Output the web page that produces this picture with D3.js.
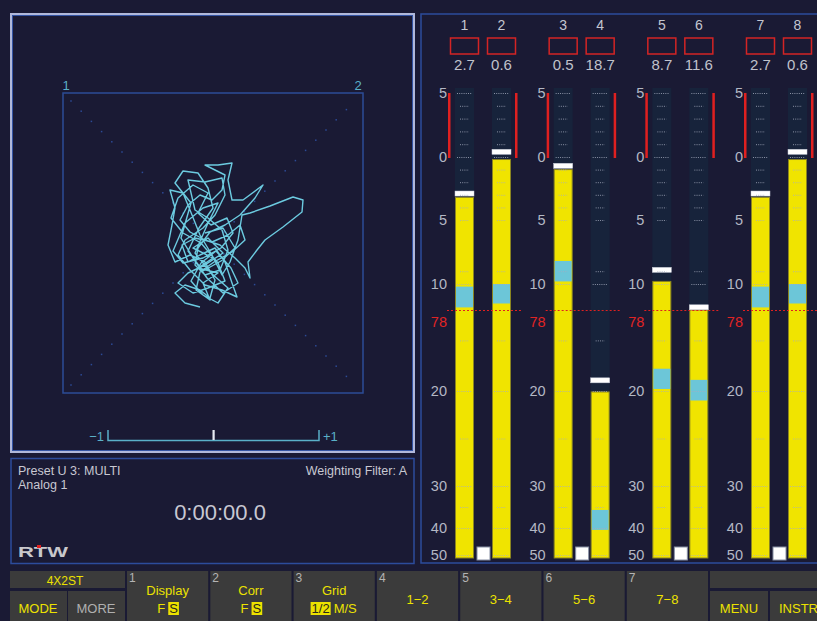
<!DOCTYPE html>
<html>
<head>
<meta charset="utf-8">
<script src="https://cdn.jsdelivr.net/npm/d3@7"></script>
<style>
body{margin:0;background:#1a1a34;overflow:hidden}
svg{display:block}
text{font-family:"Liberation Sans",Arial,sans-serif}
</style>
</head>
<body>
<div class="chart"></div>
<script>
// ---- meter data (dB / LU) ----
const channels = ['1','2','3','4','5','6','7','8']
const peakValues = [-2.7, 0.6, -0.5, -18.7, -8.7, -11.6, -2.7, 0.6]
const levelValues = [-3.2, -0.2, -1.0, -20.1, -9.8, -12.0, -3.2, -0.2]
const bandTop = [-10.2, -10.0, -8.2, -35.7, -17.8, -18.9, -10.2, -10.0]
const bandBottom = [-11.8, -11.5, -9.8, -40.7, -19.8, -21.0, -11.8, -11.5]
const majorTicks = [5, 0, -10, -20, -30, -40, -50]
const minorTicks = [4, 3, 2, 1, -1, -2, -3, -4, -5, -9, -15, -25, -35]
const scaleLabels = [5, 0, -5, -10, -20, -30, -40, -50]
const refLevel = -12
const refLabel = '78'

// ---- goniometer trace (L/R units, centre = 0) ----
const trace = [[-13,-64],[-28,-60],[-38,-50],[-28,-42],[-13,-47],[-3,-55],[2,-37],[-8,-19],[-23,-12],[-38,-19],
  [-45,-2],[-41,18],[-38,35],[-43,53],[-30,50],[-23,33],[-13,8],[-1,-12],[9,-32],[17,-19],
  [25,3],[29,28],[37,30],[57,37],[80,46],[90,43],[89,31],[70,16],[52,3],[44,-7],
  [35,-19],[37,-35],[32,-25],[22,-15],[7,-2],[-8,3],[-23,11],[-33,23],[-25,38],[-13,48],
  [-1,43],[9,53],[12,68],[2,73],[-8,78],[5,78],[19,80],[15,63],[19,43],[30,43],
  [50,58],[42,45],[27,28],[12,18],[-3,11],[-15,-5],[-18,-22],[-8,-32],[7,-27],[15,-7],
  [9,13],[-5,25],[-18,33],[-25,63],[-8,61],[9,65],[12,48],[2,28],[-10,15],[-28,3],
  [-35,-12],[-23,-27],[-8,-42],[9,-47],[24,-54],[19,-40],[12,-19],[2,-5],[-13,-12],[-25,-19],
  [-31,-2],[-18,5],[-1,1],[15,8],[27,18],[32,3],[19,-9],[1,-19],[-13,-29],[-17,-47],[-3,-57],
  [-10,-40],[5,-30],[-15,-25],[0,-15],[-20,-5],[-5,5],[10,-10],[-8,-22],[-25,-30],[-35,-40],
  [-20,-50],[-5,-45],[12,-38],[5,-20],[-12,0],[-30,10],[-42,25],[-35,45],[-20,58],[-5,50],
  [-15,30],[-2,18],[14,25],[20,10],[8,-5],[-10,-15],[-30,-20],[-40,-8],[-28,20],[-10,35],
  [5,40],[-5,20],[-18,-10],[-2,-30],[15,-45],[5,-60],[-10,-52],[-22,-38],[-12,-20],[3,-8],
  [18,-25],[25,-40],[10,-50],[-6,-35],[-18,-18],[-32,5],[-22,40],[-38,60],[-30,72],[-15,70],
  [-5,55],[0,35],[-14,15],[-25,-8],[-10,-28],[8,-18],[22,-5],[10,15],[-8,10]]
const correlation = 0

// ---- info panel ----
const presetText = 'Preset U 3: MULTI'
const sourceText = 'Analog 1'
const filterText = 'Weighting Filter: A'
const timerText = '0:00:00.0'

// ---- soft keys ----
const modeLabel = '4X2ST'
const softKeys = ['1','2','3','4','5','6','7']
const softTitles = ['Display','Corr','Grid','1\u22122','3\u22124','5\u22126','7\u22128']
const softOptions = [['F','S'],['F','S'],['1/2','M/S'],[],[],[],[]]
const softSelected = [1, 1, 0, -1, -1, -1, -1]

const width = 817, height = 621
const yellow = '#ece200', grayText = '#b4b8c4'

let svg = d3.select('.chart').append('svg')
  .attr('width', width).attr('height', height)

svg.append('rect').attr('width', width).attr('height', height).attr('fill', '#1a1a34')

// panels
svg.append('rect').attr('x', 11).attr('y', 14).attr('width', 403).attr('height', 438)
  .attr('fill', '#1a1a34').attr('stroke', '#b0b8da').attr('stroke-width', 2)
svg.append('rect').attr('x', 12.5).attr('y', 15.5).attr('width', 400).attr('height', 435)
  .attr('fill', 'none').attr('stroke', '#3454a4').attr('stroke-width', 1)
svg.append('rect').attr('x', 11).attr('y', 458.5).attr('width', 403).attr('height', 105)
  .attr('fill', '#1a1a34').attr('stroke', '#2c4c9c').attr('stroke-width', 1.5)
svg.append('rect').attr('x', 421).attr('y', 14).attr('width', 405).attr('height', 549)
  .attr('fill', '#1a1a34').attr('stroke', '#2c4c9c').attr('stroke-width', 1.5)

// ================= meters =================
const y = d3.scaleLinear()
  .domain([5, 0, -5, -10, -12, -20, -30, -40, -50])
  .range([93, 157, 220, 284, 310, 391, 486, 528, 555])
const pairX = d3.scaleLinear().domain([0, 3]).range([455, 751])
const barW = 19, pairGap = 37, colTop = 88, barBottom = 558
const barX = i => pairX(Math.floor(i / 2)) + (i % 2) * pairGap

const meters = svg.append('g')

channels.forEach((ch, i) => {
  const x = barX(i), cx = x + barW / 2
  // column background
  meters.append('rect').attr('x', x).attr('y', colTop).attr('width', barW)
    .attr('height', barBottom - colTop).attr('fill', '#17233b')
  // level bar
  meters.append('rect').attr('x', x + 0.5).attr('y', y(levelValues[i]))
    .attr('width', barW - 1).attr('height', barBottom - y(levelValues[i]))
    .attr('fill', '#f0e400').attr('stroke', '#8a8420').attr('stroke-width', 1)
  // cyan band
  meters.append('rect').attr('x', x + 1).attr('y', y(bandTop[i]))
    .attr('width', barW - 2).attr('height', y(bandBottom[i]) - y(bandTop[i]))
    .attr('fill', '#6cc6d8')
  // peak hold
  meters.append('rect').attr('x', x).attr('y', y(peakValues[i]))
    .attr('width', barW).attr('height', 5)
    .attr('fill', '#ffffff').attr('stroke', '#c8ccd8').attr('stroke-width', 0.5)

  // dotted scale ticks
  meters.selectAll(null).data(majorTicks).join('line')
    .attr('x1', x + 2).attr('x2', x + barW - 2)
    .attr('y1', d => y(d) + 0.5).attr('y2', d => y(d) + 0.5)
    .attr('stroke', '#a8aec0').attr('stroke-dasharray', '1,1.2').attr('opacity', 0.8)
  meters.selectAll(null).data(minorTicks).join('line')
    .attr('x1', x + 5).attr('x2', x + barW - 5)
    .attr('y1', d => y(d) + 0.5).attr('y2', d => y(d) + 0.5)
    .attr('stroke', '#a8aec0').attr('stroke-dasharray', '1,1.2').attr('opacity', 0.8)

  // channel number, over box, value
  meters.append('text').attr('x', cx).attr('y', 30).attr('text-anchor', 'middle')
    .attr('font-size', 14).attr('fill', '#c4c6d0').text(ch)
  meters.append('rect').attr('x', cx - 14).attr('y', 38).attr('width', 28).attr('height', 16)
    .attr('fill', 'none').attr('stroke', '#d42424').attr('stroke-width', 1.5)
  meters.append('text').attr('x', cx).attr('y', 70).attr('text-anchor', 'middle')
    .attr('font-size', 15).attr('fill', '#c0c2cc').text(Math.abs(peakValues[i]).toFixed(1))
})

// per-pair scale labels, red range marks, reference line, square indicators
d3.range(4).forEach(p => {
  const x0 = pairX(p)
  meters.selectAll(null).data(scaleLabels).join('text')
    .attr('x', x0 - 8).attr('y', d => y(d) + 5)
    .attr('text-anchor', 'end').attr('font-size', 14.5).attr('fill', grayText)
    .text(d => Math.abs(d))
  meters.append('text').attr('x', x0 - 8).attr('y', y(refLevel) + 17)
    .attr('text-anchor', 'end').attr('font-size', 14.5).attr('fill', '#e02424').text(refLabel)

  meters.append('rect').attr('x', x0 - 7).attr('y', y(5)).attr('width', 2.5)
    .attr('height', y(0) - y(5) + 1).attr('fill', '#e02020')
  meters.append('rect').attr('x', x0 + pairGap + barW + 4).attr('y', y(5)).attr('width', 2.5)
    .attr('height', y(0) - y(5) + 1).attr('fill', '#e02020')

  meters.append('line').attr('x1', x0 - 8).attr('x2', x0 + pairGap + barW + 10)
    .attr('y1', y(refLevel) + 0.5).attr('y2', y(refLevel) + 0.5)
    .attr('stroke', '#e02020').attr('stroke-dasharray', '2,2')

  meters.append('rect').attr('x', x0 + barW + 3).attr('y', 547).attr('width', 13).attr('height', 13)
    .attr('fill', '#ffffff').attr('stroke', '#8890a4').attr('stroke-width', 1)
})

// ================= goniometer =================
const gx = d3.scaleLinear().domain([-150, 150]).range([63, 363])
const gy = d3.scaleLinear().domain([-150, 150]).range([393, 93])
const gonio = svg.append('g')

gonio.append('rect').attr('x', gx(-150)).attr('y', gy(150))
  .attr('width', gx(150) - gx(-150)).attr('height', gy(-150) - gy(150))
  .attr('fill', 'none').attr('stroke', '#2c4c96').attr('stroke-width', 1.5)

const diag = d3.range(-142, 143, 10.2)
gonio.selectAll(null).data(diag).join('rect')
  .attr('x', d => gx(d) - 0.75).attr('y', d => gy(d) - 0.75).attr('width', 1.5).attr('height', 1.5)
  .attr('fill', '#2c4a96')
gonio.selectAll(null).data(diag).join('rect')
  .attr('x', d => gx(d) - 0.75).attr('y', d => gy(-d) - 0.75).attr('width', 1.5).attr('height', 1.5)
  .attr('fill', '#2c4a96')

gonio.append('text').attr('x', gx(-150) + 3).attr('y', gy(150) - 3).attr('text-anchor', 'middle')
  .attr('font-size', 13).attr('fill', '#5cb0c8').text('1')
gonio.append('text').attr('x', gx(150) - 5).attr('y', gy(150) - 3).attr('text-anchor', 'middle')
  .attr('font-size', 13).attr('fill', '#5cb0c8').text('2')

gonio.append('path').datum(trace)
  .attr('d', d3.line().x(d => gx(d[0])).y(d => gy(d[1])))
  .attr('fill', 'none').attr('stroke', '#6ccbe0').attr('stroke-width', 1.4)
  .attr('stroke-linejoin', 'round')

// correlation meter
const cx = d3.scaleLinear().domain([-1, 1]).range([108, 319])
gonio.append('path')
  .attr('d', `M${cx(-1)},430V440.5H${cx(1)}V430`)
  .attr('fill', 'none').attr('stroke', '#5ab0c8').attr('stroke-width', 1.5)
gonio.append('rect').attr('x', cx(correlation) - 1).attr('y', 430).attr('width', 2.2).attr('height', 10)
  .attr('fill', '#e8ecf4')
gonio.append('text').attr('x', cx(-1) - 4).attr('y', 441).attr('text-anchor', 'end')
  .attr('font-size', 13).attr('fill', '#5ab0c8').text('\u22121')
gonio.append('text').attr('x', cx(1) + 4).attr('y', 441)
  .attr('font-size', 13).attr('fill', '#5ab0c8').text('+1')

// ================= info panel =================
svg.append('text').attr('x', 18).attr('y', 475).attr('font-size', 12.5).attr('fill', '#c8c8d2').text(presetText)
svg.append('text').attr('x', 18).attr('y', 489).attr('font-size', 12.5).attr('fill', '#c8c8d2').text(sourceText)
svg.append('text').attr('x', 407).attr('y', 475).attr('text-anchor', 'end')
  .attr('font-size', 12.5).attr('fill', '#c8c8d2').text(filterText)
svg.append('text').attr('x', 220).attr('y', 520).attr('text-anchor', 'middle')
  .attr('font-size', 22).attr('fill', '#c8c8d2').text(timerText)

// RTW logo
svg.append('text').attr('x', 18).attr('y', 557).attr('font-size', 15).attr('font-weight', 'bold')
  .attr('font-family', 'DejaVu Sans').attr('textLength', 50).attr('lengthAdjust', 'spacingAndGlyphs')
  .attr('fill', '#c8c8cc').text('RTW')
svg.append('rect').attr('x', 37).attr('y', 545).attr('width', 4).attr('height', 3).attr('fill', '#e02020')

// ================= soft keys =================
const keyFill = '#3b3b3b'
const keys = svg.append('g')

// left block
keys.append('rect').attr('x', 10).attr('y', 571).attr('width', 115).attr('height', 17).attr('fill', keyFill)
keys.append('rect').attr('x', 10).attr('y', 591).attr('width', 57).attr('height', 30).attr('fill', keyFill)
keys.append('rect').attr('x', 68).attr('y', 591).attr('width', 57).attr('height', 30).attr('fill', keyFill)
keys.append('text').attr('x', 65).attr('y', 585).attr('text-anchor', 'middle').attr('font-size', 12)
  .attr('fill', yellow).text(modeLabel)
keys.append('text').attr('x', 38).attr('y', 613).attr('text-anchor', 'middle').attr('font-size', 13)
  .attr('fill', yellow).text('MODE')
keys.append('text').attr('x', 96).attr('y', 613).attr('text-anchor', 'middle').attr('font-size', 13)
  .attr('fill', '#b0b0b0').text('MORE')

// right block
keys.append('rect').attr('x', 710).attr('y', 571).attr('width', 110).attr('height', 17).attr('fill', keyFill)
keys.append('rect').attr('x', 710).attr('y', 591).attr('width', 58).attr('height', 30).attr('fill', keyFill)
keys.append('rect').attr('x', 770).attr('y', 591).attr('width', 50).attr('height', 30).attr('fill', keyFill)
keys.append('text').attr('x', 739).attr('y', 613).attr('text-anchor', 'middle').attr('font-size', 13)
  .attr('fill', yellow).text('MENU')
keys.append('text').attr('x', 779).attr('y', 613).attr('font-size', 13)
  .attr('fill', yellow).text('INSTR')

// numbered keys
const kx = d3.scaleBand().domain(softKeys).range([127, 708]).paddingInner(0.025)
softKeys.forEach((k, i) => {
  const x0 = kx(k), w = kx.bandwidth(), mid = x0 + w / 2
  keys.append('rect').attr('x', x0).attr('y', 571).attr('width', w).attr('height', 50).attr('fill', keyFill)
  keys.append('text').attr('x', x0 + 2).attr('y', 582).attr('font-size', 12)
    .attr('fill', '#b4b4b4').text(k)
  const opts = softOptions[i]
  keys.append('text').attr('x', mid).attr('y', opts.length ? 595 : 604).attr('text-anchor', 'middle')
    .attr('font-size', 13).attr('fill', yellow).text(softTitles[i])
  if (!opts.length) return
  // option line, selected item inverted
  const g = keys.append('g')
  let cur = 0
  opts.forEach((o, j) => {
    const bg = g.append('rect')
    const t = g.append('text').attr('x', cur).attr('y', 613).attr('font-size', 13).text(o)
    const tw = t.node().getComputedTextLength()
    if (j === softSelected[i]) {
      bg.attr('x', cur - 1).attr('y', 602).attr('width', tw + 2).attr('height', 13).attr('fill', yellow)
      t.attr('fill', '#2a2a1a')
    } else {
      bg.remove()
      t.attr('fill', yellow)
    }
    cur += tw + 4
  })
  g.attr('transform', `translate(${mid - (cur - 4) / 2},0)`)
})
</script>
</body>
</html>
